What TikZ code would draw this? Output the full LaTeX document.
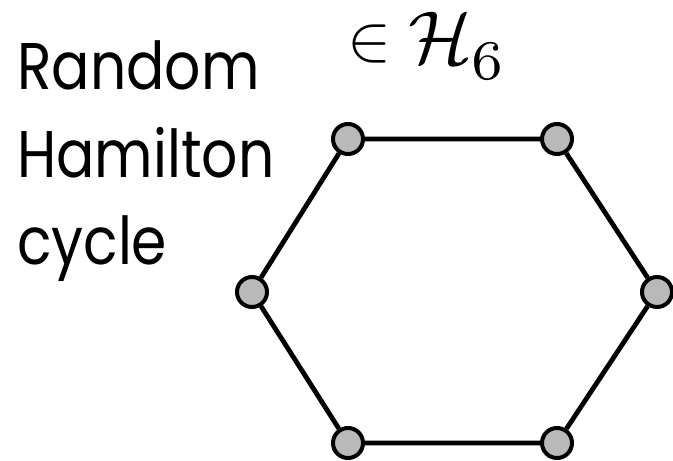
\documentclass[tikz,border=0pt]{standalone}
\usepackage{fontspec}
\setmainfont{Poppins}
\definecolor{vgray}{RGB}{185,185,185}
\begin{document}
\begin{tikzpicture}[x=1pt,y=-1pt,
  vtx/.style={circle,draw=black,fill=vgray,line width=4pt,minimum size=30pt,inner sep=0pt},
  edge/.style={line width=4.8pt,black},
  lbl/.style={anchor=base west,inner sep=0pt,xscale=0.86,font=\fontsize{66}{68}\selectfont},
  mth/.style={anchor=base west,inner sep=0pt}]
\useasboundingbox (0,0) rectangle (673,461);
\node[lbl] (t1) at (17,89) {Random};
\node[lbl] (t2) at (17,177) {Hamilton};
\node[lbl] (t3) at (17,264) {cycle};
\node[mth] (m1) at (347,60) {\scalebox{6.6}{$\in$}};
\node[mth] (m2) at (408,63) {\scalebox{7.5}{$\mathcal{H}$}};
\node[mth] (m3) at (471,79) {\scalebox{8}{$\scriptstyle 6$}};
\node[vtx] (a) at (348,139) {};
\node[vtx] (b) at (557,139) {};
\node[vtx] (c) at (657,292) {};
\node[vtx] (d) at (557,443) {};
\node[vtx] (e) at (348,443) {};
\node[vtx] (f) at (252,292) {};
\draw[edge] (a) -- (b) -- (c) -- (d) -- (e) -- (f) -- (a);
\end{tikzpicture}
\end{document}
